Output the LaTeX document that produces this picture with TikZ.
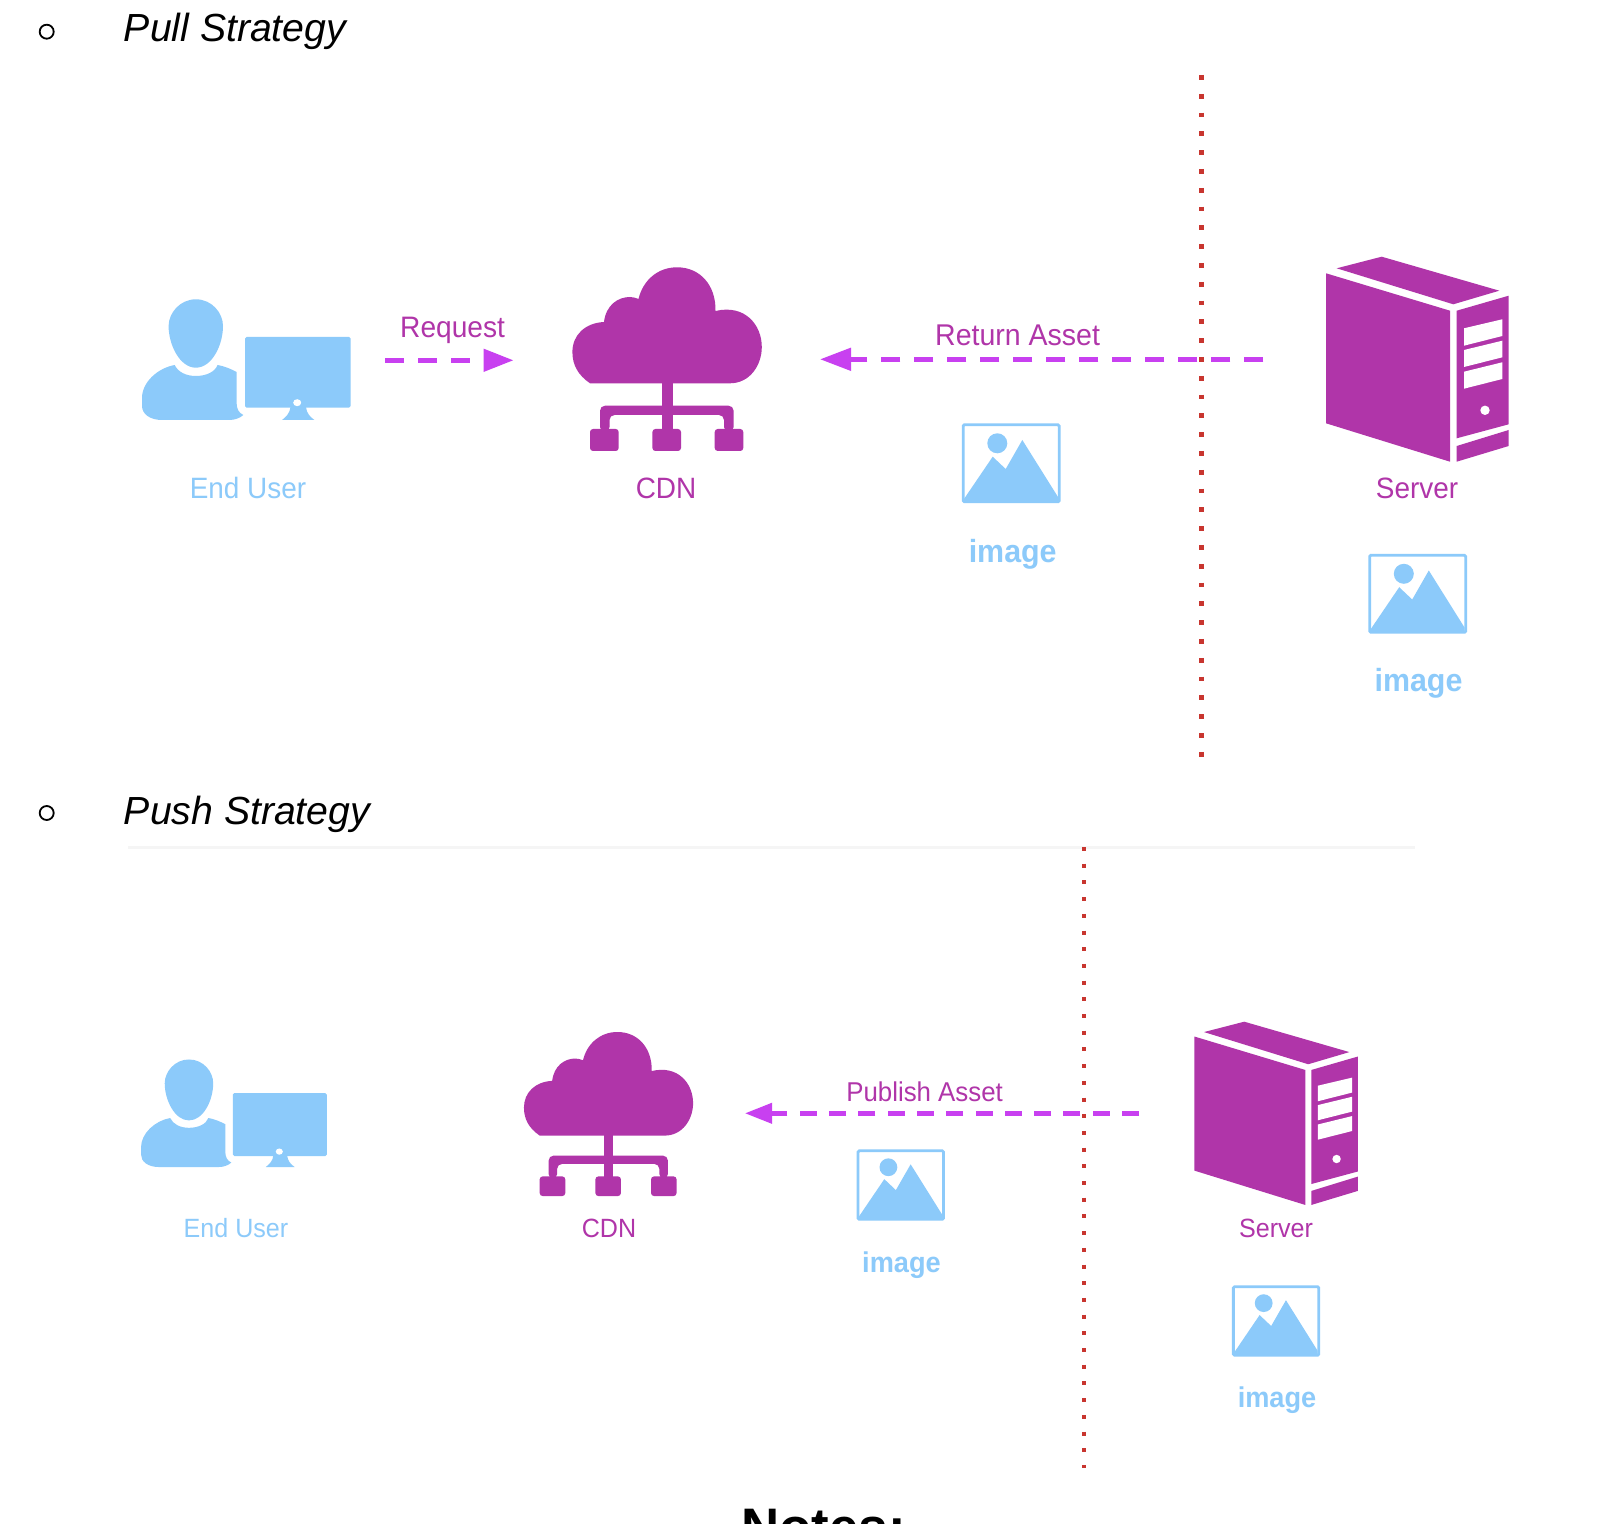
\documentclass[tikz,border=0pt]{standalone}
\usepackage{fontspec}
\setmainfont{Liberation Sans}
\newfontfamily\labfont[FakeStretch=.95]{Liberation Sans}
\usetikzlibrary{arrows.meta}
\definecolor{plum}{HTML}{B035A9}
\definecolor{sky}{HTML}{8CCAFA}
\definecolor{flow}{HTML}{C840F0}
\definecolor{redline}{HTML}{C8352F}
\definecolor{rulegray}{HTML}{F5F5F5}
\tikzset{
  x=.5pt,y=-.5pt,
  heading/.style={anchor=base west,inner sep=0,font=\fontsize{19.6}{19.6}\selectfont\itshape,text=black},
  bullet/.style={circle,draw=black,line width=.9pt,fill=white,minimum size=7pt,inner sep=0},
  lblue/.style={inner sep=0,text=sky,font=\labfont\fontsize{#1}{#1}\selectfont},
  lplum/.style={inner sep=0,text=plum,font=\labfont\fontsize{#1}{#1}\selectfont},
  limg/.style={inner sep=0,text=sky,font=\labfont\fontsize{#1}{#1}\selectfont\bfseries},
  flowline/.style={draw=flow,line width=2.4pt},
  redrule/.style={draw=redline,line width=2.3pt},
  person/.pic={
    \fill[sky] (195.8,299.3) .. controls (212,299.3) and (223,313) .. (223,326)
      .. controls (223,345) and (212,367.7) .. (195.8,367.7)
      .. controls (180,367.7) and (168.6,345) .. (168.6,326)
      .. controls (168.6,313) and (180,299.3) .. (195.8,299.3) -- cycle;
    \fill[sky] (174.7,365) .. controls (178,372) and (186,376) .. (195.8,376)
      .. controls (206,376) and (215,372) .. (217.6,365)
      .. controls (224,366) and (231,369) .. (236.6,372)
      -- (236.6,403) .. controls (236.6,409) and (239,413) .. (243.3,415)
      .. controls (240,418) and (235,420) .. (229.4,420)
      -- (162,420) .. controls (150,420) and (142,414) .. (142,406)
      -- (142,398) .. controls (142,382) and (158,368) .. (174.7,365) -- cycle;
    \fill[sky,rounded corners=.8pt] (245,337) rectangle (350.6,407.7);
    \fill[sky] (290.5,407) .. controls (290,413) and (286,417) .. (282,420) -- (314.4,420)
      .. controls (310,417) and (306.5,413) .. (306,407) -- cycle;
    \fill[white] (297.2,402.7) ellipse [x radius=4,y radius=3.5];
  },
  cloudnet/.pic={
    \fill[plum] (590,383.3) .. controls (578,375) and (572.4,365) .. (572.4,352)
      .. controls (572.4,335) and (585,323) .. (604,322)
      .. controls (606,305) and (618,297) .. (630,297)
      .. controls (633,297) and (636,298) .. (638.5,299)
      .. controls (643,280) and (658,267.3) .. (677,267.3)
      .. controls (700,267.3) and (716,285) .. (715.5,311)
      .. controls (745,304) and (761.8,325) .. (761.8,347)
      .. controls (761.8,365) and (750,383.3) .. (730,383.3) -- cycle;
    \fill[plum] (661.7,383) rectangle (672.6,432);
    \fill[plum,rounded corners=2.5pt] (600,432) -- (600,405.7) -- (733.6,405.7) -- (733.6,432)
      -- (724,432) -- (724,415) -- (609.5,415) -- (609.5,432) -- cycle;
    \fill[plum,rounded corners=1.5pt] (590,429) rectangle (618.7,451);
    \fill[plum,rounded corners=1.5pt] (652.4,429) rectangle (681,451);
    \fill[plum,rounded corners=1.5pt] (714.7,429) rectangle (743.3,451);
  },
  servertower/.pic={
    \fill[plum] (1336.7,268.3) -- (1381.7,256.7) -- (1499.3,290.7) -- (1453.3,304.3) -- cycle;
    \fill[plum] (1326,273.3) -- (1450,310.7) -- (1450,461.7) -- (1326,423.3) -- cycle;
    \fill[plum] (1456.7,310.7) -- (1508.7,295.7) -- (1508.7,424.3) -- (1456.7,438.3) -- cycle;
    \fill[plum] (1456.7,446) -- (1508.7,430) -- (1508.7,446) -- (1456.7,461.7) -- cycle;
    \fill[white] (1464,328.3) -- (1502.3,319.3) -- (1502.3,336) -- (1464,345.7) -- cycle;
    \fill[white] (1464,350) -- (1502.3,340.7) -- (1502.3,357.3) -- (1464,367) -- cycle;
    \fill[white] (1464,371.7) -- (1502.3,362.3) -- (1502.3,379) -- (1464,388.7) -- cycle;
    \fill[white] (1485,410.3) circle [radius=4.7];
  },
  imageicon/.pic={
    \draw[sky,line width=1.4pt,rounded corners=.6pt] (963.2,424.8) rectangle (1059.2,501.8);
    \fill[sky] (997.3,443.3) circle [radius=10];
    \fill[sky] (963.3,500) -- (992.7,456.7) -- (1005.7,469) -- (1022.3,440) -- (1058,497) -- (1058,502) -- (963.3,502) -- cycle;
  }
}
\begin{document}
\begin{tikzpicture}
\useasboundingbox (0,0) rectangle (1602,1524);
\clip (0,0) rectangle (1602,1524);
\fill[white] (0,0) rectangle (1602,1524);

% headings
\node[bullet] (bulletpull) at (46.7,31.7) {};
\node[heading] (pullhead) at (123.5,42) {Pull Strategy};
\node[bullet] (bulletpush) at (46.7,813) {};
\node[heading] (pushhead) at (123.5,824.6) {Push Strategy};
\fill[rulegray] (128,845.5) rectangle (1415,848.5);

% pull strategy icons
\pic {person};
\pic {cloudnet};
\pic {servertower};
\pic {imageicon};
\pic at (406.5,130.5) {imageicon};
\node[lblue=14.7] (pulluser) at (248,488) {End User};
\node[lplum=14.7] (pullcdn) at (666,488) {CDN};
\node[lplum=14.7] (pullserver) at (1417,488) {Server};
\node[limg=16] (pullimgA) at (1012.7,554) {image};
\node[limg=16] (pullimgB) at (1418.5,683.5) {image};
\node[lplum=14.8] (reqlabel) at (452.6,330) {Request};
\node[lplum=15] (retlabel) at (1017.6,335.5) {Return Asset};

% pull strategy connectors
\coordinate (redAtop) at (1201.7,75);
\coordinate (redAbot) at (1201.7,760);
\draw[redrule,dash pattern=on 2.4pt off 7pt] (redAtop) -- (redAbot);
\coordinate (reqS) at (385,360.3);
\coordinate (reqE) at (513.5,360.3);
\draw[flowline,dash pattern=on 9.5pt off 7pt,-{Triangle[length=15pt,width=11pt]}] (reqS) -- (reqE);
\coordinate (retS) at (1263.3,359.3);
\coordinate (retE) at (820,359.3);
\draw[flowline,dash pattern=on 9.5pt off 7pt,-{Triangle[length=15.5pt,width=11pt]}] (retS) -- (retE);

% push strategy icons
\pic[scale=.891] at (14.5,792.8) {person};
\pic[scale=.893] at (12.8,793.3) {cloudnet};
\pic[scale=.894] at (9,792.2) {servertower};
\pic[scale=.89] at (0.8,772.7) {imageicon};
\pic[scale=.89] at (376.1,908.6) {imageicon};
\node[lblue=13.2] (pushuser) at (236,1228) {End User};
\node[lplum=13.2] (pushcdn) at (609,1228) {CDN};
\node[lplum=13.2] (pushserver) at (1276,1228) {Server};
\node[limg=14.3] (pushimgA) at (901.5,1265.5) {image};
\node[limg=14.3] (pushimgB) at (1277,1400.5) {image};
\node[lplum=13.6] (publabel) at (924.6,1092) {Publish Asset};

% push strategy connectors
\coordinate (redBtop) at (1084.3,847);
\coordinate (redBbot) at (1084.3,1468);
\draw[redrule,line width=2pt,dash pattern=on 2pt off 6.35pt] (redBtop) -- (redBbot);
\coordinate (pubS) at (1139,1113.3);
\coordinate (pubE) at (745,1113.3);
\draw[flowline,line width=2.2pt,dash pattern=on 8.5pt off 6.15pt,-{Triangle[length=13.6pt,width=10pt]}] (pubS) -- (pubE);

% clipped title
\node[inner sep=0,anchor=base,font=\fontsize{26.4}{26.4}\selectfont\bfseries] (notes) at (823.5,1545) {Notes:};
\end{tikzpicture}
\end{document}
